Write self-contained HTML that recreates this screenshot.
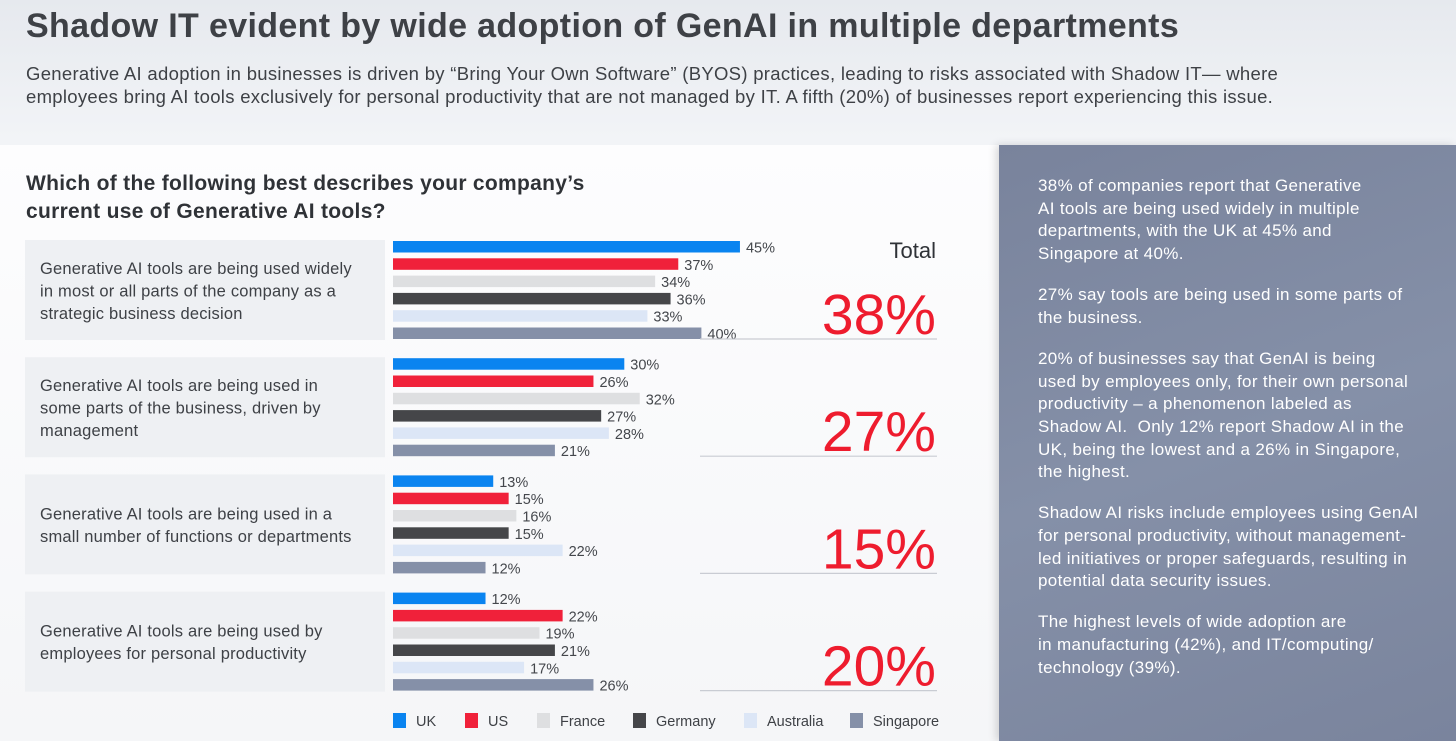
<!DOCTYPE html>
<html><head><meta charset="utf-8">
<style>
body{margin:0;width:1456px;height:741px;overflow:hidden;font-family:"Liberation Sans",sans-serif;background:linear-gradient(180deg,#e6e9ee 0,#f2f4f7 140px,#f7f8fa 400px,#f3f4f6 741px);position:relative}
.abs{position:absolute}
h1{position:absolute;left:26px;top:7px;margin:0;font-size:34px;font-weight:bold;color:#3e4146;letter-spacing:0.35px;white-space:nowrap}
.sub{left:26px;top:62px;font-size:18.5px;line-height:23px;color:#3e4146;letter-spacing:0.3px;white-space:nowrap}
.q{left:26px;top:170px;font-size:21px;font-weight:bold;line-height:28px;color:#2f3237;letter-spacing:0.3px}
.panel{left:999px;top:145px;width:457px;height:596px;background:linear-gradient(160deg,#79839c,#8590a8 50%,#7a849d);box-shadow:-3px 0 8px rgba(0,0,0,0.15)}
.panel p{margin:0 0 18.3px 39px;color:#fff;font-size:17px;line-height:22.7px;letter-spacing:0.35px;white-space:nowrap}
.white{left:0;top:145px;width:999px;height:596px;background:linear-gradient(180deg,#fdfdfe,#f5f6f8)}
</style></head><body>
<div class="abs white"></div>
<h1>Shadow IT evident by wide adoption of GenAI in multiple departments</h1>
<div class="abs sub">Generative AI adoption in businesses is driven by “Bring Your Own Software” (BYOS) practices, leading to risks associated with Shadow IT— where<br>employees bring AI tools exclusively for personal productivity that are not managed by IT. A fifth (20%) of businesses report experiencing this issue.</div>
<div class="abs q">Which of the following best describes your company’s<br>current use of Generative AI tools?</div>
<svg class="abs" style="left:0;top:0" width="999" height="741" id="chart"></svg>
<div class="abs panel">
<div style="height:30px"></div>
<p>38% of companies report that Generative<br>AI tools are being used widely in multiple<br>departments, with the UK at 45% and<br>Singapore at 40%.</p>
<p>27% say tools are being used in some parts of<br>the business.</p>
<p>20% of businesses say that GenAI is being<br>used by employees only, for their own personal<br>productivity – a phenomenon labeled as<br>Shadow AI.&nbsp; Only 12% report Shadow AI in the<br>UK, being the lowest and a 26% in Singapore,<br>the highest.</p>
<p>Shadow AI risks include employees using GenAI<br>for personal productivity, without management-<br>led initiatives or proper safeguards, resulting in<br>potential data security issues.</p>
<p>The highest levels of wide adoption are<br>in manufacturing (42%), and IT/computing/<br>technology (39%).</p>
</div>
<script>
const categories=[["Generative AI tools are being used widely","in most or all parts of the company as a","strategic business decision"],["Generative AI tools are being used in","some parts of the business, driven by","management"],["Generative AI tools are being used in a","small number of functions or departments"],["Generative AI tools are being used by","employees for personal productivity"]];
const countries=["UK","US","France","Germany","Australia","Singapore"];
const colors=["#0a84f0","#f0213a","#dedfe1","#454649","#dce6f6","#8590a8"];
const uk=[45,30,13,12];
const us=[37,26,15,22];
const france=[34,32,16,19];
const germany=[36,27,15,21];
const australia=[33,28,22,17];
const singapore=[40,21,12,26];
const totals=[38,27,15,20];
const series=[uk,us,france,germany,australia,singapore];
const svg=document.getElementById('chart');
const NS='http://www.w3.org/2000/svg';
const x0=393, pxPer=7.71;
const xs=v=>v*pxPer;
const groupTop=g=>240+g*117.2;
function mk(tag,attrs,txt){const e=document.createElementNS(NS,tag);for(const k in attrs)e.setAttribute(k,attrs[k]);if(txt!==undefined)e.textContent=txt;svg.appendChild(e);return e;}
categories.forEach((lines,g)=>{
  const top=groupTop(g);
  const box=mk('rect',{x:25,y:top,width:360,height:100,fill:'#eef0f3'});
  
  
  const startY=top+50-(lines.length-1)*11+6;
  lines.forEach((l,i)=>{
    const t=mk('text',{x:40,y:startY+i*22.5,'font-size':16.5,fill:'#3e4146','letter-spacing':0.2,'font-family':'Liberation Sans, sans-serif'},l);
    
    
  });
  series.forEach((s,k)=>{
    const y=top+1+k*17.3;
    const r=mk('rect',{x:x0,y:y,width:xs(s[g]),height:11.5,fill:colors[k]});
    
    
    const t=mk('text',{x:x0+xs(s[g])+6,y:y+11.5,'font-size':14.5,fill:'#44474c','font-family':'Liberation Sans, sans-serif'},s[g]+'%');
    
    
  });
  const ln=mk('line',{x1:700,x2:937,y1:top+99,y2:top+99,stroke:'#c9ccd3','stroke-width':1.2});
  
  
  const tt=mk('text',{x:936,y:top+94,'font-size':57,fill:'#ee1c2e','text-anchor':'end','font-family':'Liberation Sans, sans-serif'},totals[g]+'%');
  
  
});
const th=mk('text',{x:936,y:258,'font-size':22,fill:'#2f3237','text-anchor':'end','font-family':'Liberation Sans, sans-serif'},'Total');


const legX=[393,465,537,633,744,850];
countries.forEach((c,k)=>{
  const r=mk('rect',{x:legX[k],y:713,width:13,height:15,fill:colors[k]});
  
  
  const t=mk('text',{x:legX[k]+23,y:726,'font-size':14.5,fill:'#3e4146','font-family':'Liberation Sans, sans-serif'},c);
  
  
});
</script>
</body></html>
